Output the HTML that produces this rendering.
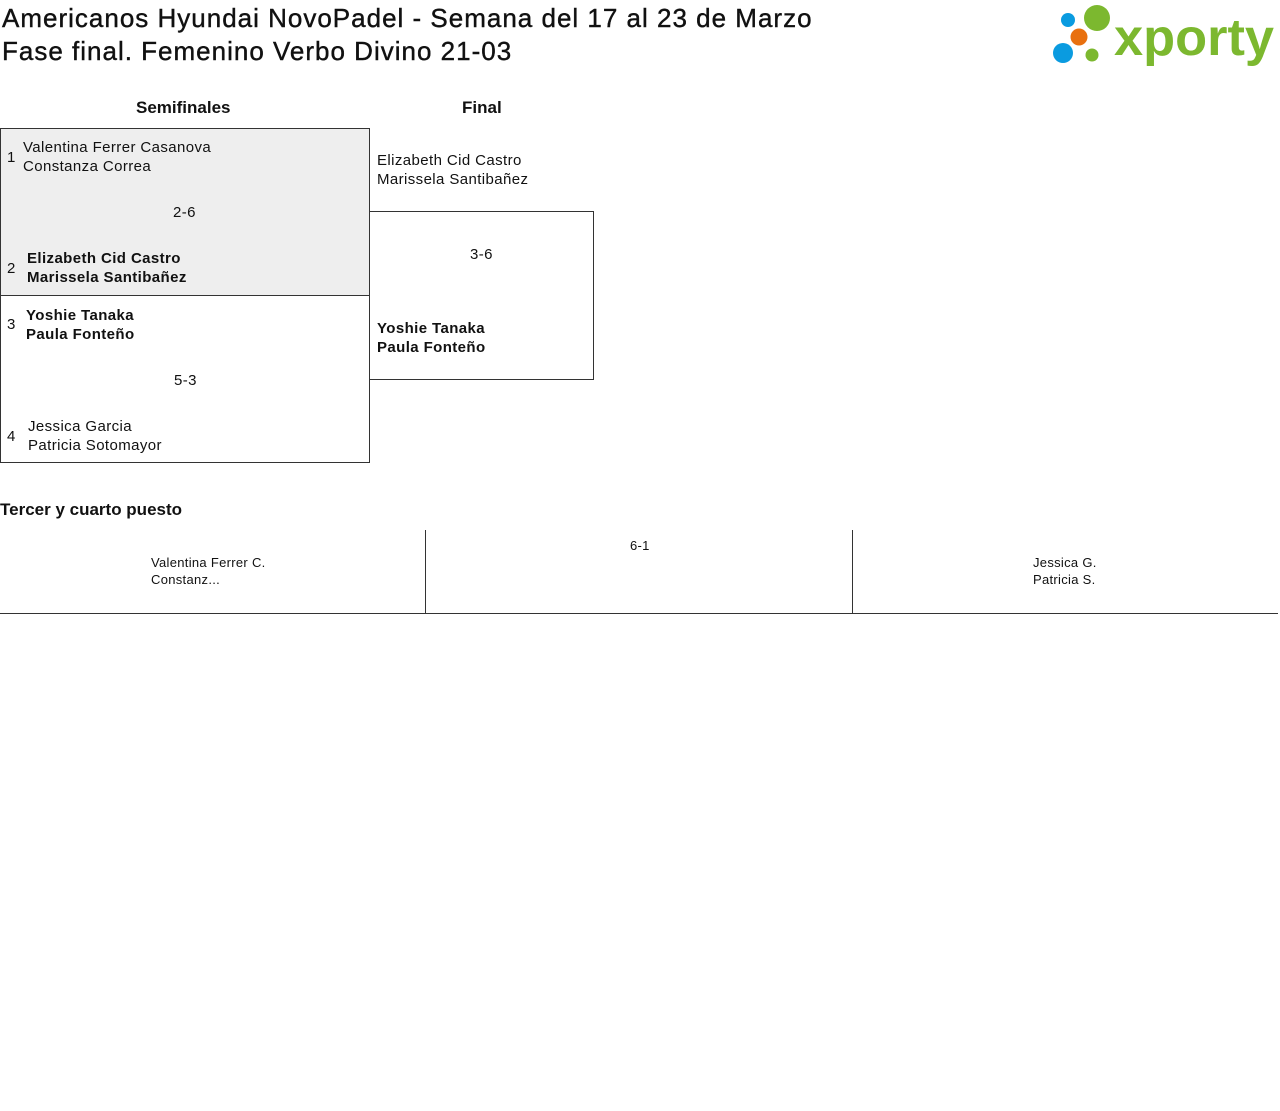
<!DOCTYPE html>
<html><head><meta charset="utf-8"><style>
body{margin:0;width:1280px;height:1111px;background:#fff;font-family:"Liberation Sans",sans-serif;color:#111;position:relative;overflow:hidden}
div{position:absolute}
.t{font-size:26px;left:2px;letter-spacing:1px;white-space:nowrap;-webkit-text-stroke:0.4px #111}
.h{font-size:17px;font-weight:bold}
.n{font-size:15px;line-height:19px;white-space:nowrap;letter-spacing:0.4px}
.b{font-weight:bold}
.s{font-size:13px;line-height:17px;white-space:nowrap;letter-spacing:0.3px}
</style></head><body>
<div class="t" style="top:3px">Americanos Hyundai NovoPadel - Semana del 17 al 23 de Marzo</div>
<div class="t" style="top:36px">Fase final. Femenino Verbo Divino 21-03</div>
<svg style="position:absolute;left:1050px;top:3px" width="230" height="64">
<circle cx="18" cy="17" r="7" fill="#0a9be0"/><circle cx="47" cy="15" r="13" fill="#7cb82f"/>
<circle cx="29" cy="34" r="8.5" fill="#e8700f"/><circle cx="13" cy="50" r="10" fill="#0a9be0"/>
<circle cx="42" cy="52" r="6.5" fill="#7cb82f"/>
<text x="64" y="52" font-family="Liberation Sans,sans-serif" font-weight="bold" font-size="52" fill="#7cb82f" letter-spacing="0" textLength="160" lengthAdjust="spacingAndGlyphs">xporty</text>
</svg>
<div class="h" style="left:136px;top:98px">Semifinales</div>
<div class="h" style="left:462px;top:98px">Final</div>
<div style="left:0;top:128px;width:368px;height:166px;border:1px solid #333;background:#eee"></div>
<div style="left:0;top:295px;width:368px;height:167px;border:1px solid #333;border-top:none"></div>
<div style="left:369px;top:211px;width:224px;height:167px;border:1px solid #333;border-left:none"></div>
<div class="n" style="left:7px;top:148px">1</div>
<div class="n" style="left:23px;top:138px">Valentina Ferrer Casanova<br>Constanza Correa</div>
<div class="n" style="left:173px;top:203px">2-6</div>
<div class="n" style="left:7px;top:259px">2</div>
<div class="n b" style="left:27px;top:249px">Elizabeth Cid Castro<br>Marissela Santibañez</div>
<div class="n" style="left:7px;top:315px">3</div>
<div class="n b" style="left:26px;top:306px">Yoshie Tanaka<br>Paula Fonteño</div>
<div class="n" style="left:174px;top:371px">5-3</div>
<div class="n" style="left:7px;top:427px">4</div>
<div class="n" style="left:28px;top:417px">Jessica Garcia<br>Patricia Sotomayor</div>
<div class="n" style="left:377px;top:151px">Elizabeth Cid Castro<br>Marissela Santibañez</div>
<div class="n" style="left:470px;top:245px">3-6</div>
<div class="n b" style="left:377px;top:319px">Yoshie Tanaka<br>Paula Fonteño</div>
<div class="h" style="left:0;top:500px">Tercer y cuarto puesto</div>
<div style="left:0;top:530px;width:1278px;height:83px;border-bottom:1px solid #333"></div>
<div style="left:425px;top:530px;width:1px;height:84px;background:#333"></div>
<div style="left:852px;top:530px;width:1px;height:84px;background:#333"></div>
<div class="s" style="left:151px;top:554px">Valentina Ferrer C.<br>Constanz...</div>
<div class="s" style="left:630px;top:537px">6-1</div>
<div class="s" style="left:1033px;top:554px">Jessica G.<br>Patricia S.</div>
</body></html>
